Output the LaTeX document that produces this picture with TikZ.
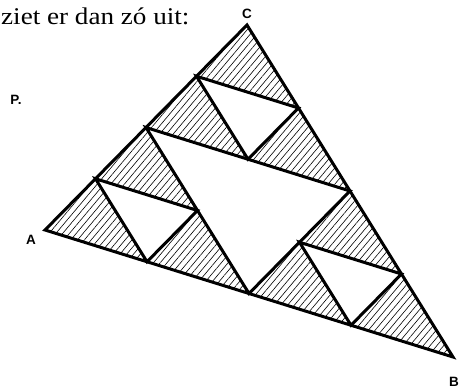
\documentclass[tikz,border=0pt]{standalone}
\usepackage{fontspec}
\setmainfont{Liberation Serif}
\newfontfamily\labfont{Liberation Sans}
\newfontfamily\txtfont[FakeStretch=1.13]{Liberation Serif}
\usetikzlibrary{calc,patterns.meta}
\begin{document}
\begin{tikzpicture}[x=1pt,y=1pt,
  hatch/.style={pattern={Lines[angle=50,distance=5.2pt,line width=0.6pt]}},
  edge/.style={line width=3pt,line join=miter,black},
  lab/.style={font=\labfont\bfseries\fontsize{13.5}{15}\selectfont,inner sep=0pt}]
\useasboundingbox (0,0) rectangle (461,389);
\fill[white] (0,0) rectangle (461,389);
\coordinate (A) at (45,159);
\coordinate (B) at (453,32);
\coordinate (C) at (247,364);
\coordinate (AB) at ($(A)!0.5!(B)$);
\coordinate (BC) at ($(B)!0.5!(C)$);
\coordinate (CA) at ($(C)!0.5!(A)$);
\coordinate (A1) at ($(A)!0.5!(AB)$);
\coordinate (A2) at ($(A)!0.5!(CA)$);
\coordinate (A3) at ($(AB)!0.5!(CA)$);
\coordinate (B1) at ($(B)!0.5!(AB)$);
\coordinate (B2) at ($(B)!0.5!(BC)$);
\coordinate (B3) at ($(AB)!0.5!(BC)$);
\coordinate (C1) at ($(C)!0.5!(CA)$);
\coordinate (C2) at ($(C)!0.5!(BC)$);
\coordinate (C3) at ($(CA)!0.5!(BC)$);
\foreach \p/\q/\r in {A/A1/A2, AB/A1/A3, CA/A2/A3, B/B1/B2, AB/B1/B3, BC/B2/B3, C/C1/C2, CA/C1/C3, BC/C2/C3}
  \path[hatch] (\p) -- (\q) -- (\r) -- cycle;
\draw[edge] (A) -- (B) -- (C) -- cycle;
\draw[edge] (AB) -- (BC) -- (CA) -- cycle;
\draw[edge] (A1) -- (A2) -- (A3) -- cycle;
\draw[edge] (B1) -- (B2) -- (B3) -- cycle;
\draw[edge] (C1) -- (C2) -- (C3) -- cycle;
\node[lab] (lA) at (31,149) {A};
\node[lab] (lB) at (454,7) {B};
\node[lab] (lC) at (247,375) {C};
\node[lab] (lP) at (16,289) {P.};
\node[anchor=base west,inner sep=0pt,font=\txtfont\fontsize{24}{26}\selectfont] (txt) at (1,364) {ziet er dan zó uit:};
\end{tikzpicture}
\end{document}
